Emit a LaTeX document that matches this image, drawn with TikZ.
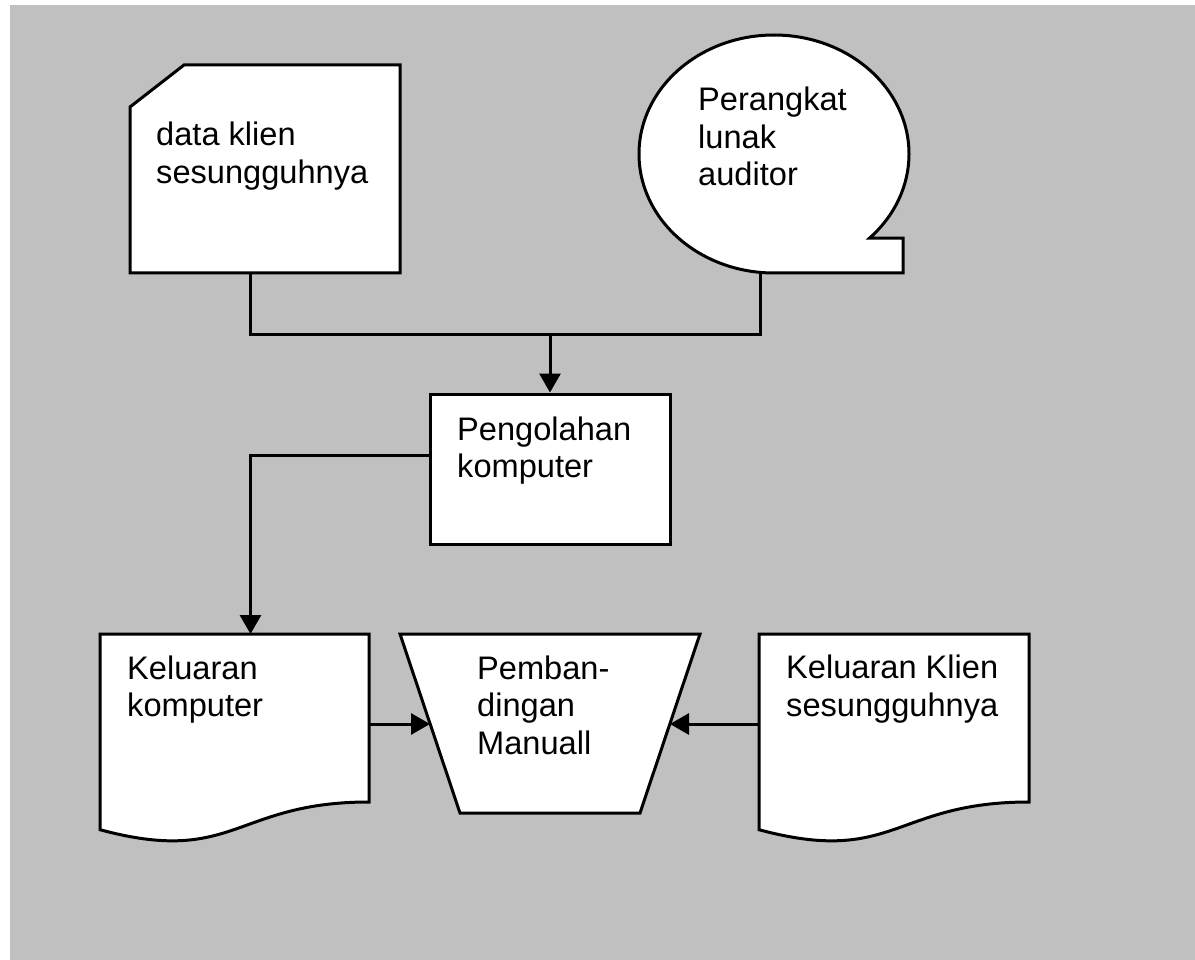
\documentclass[tikz,border=0pt]{standalone}
\usepackage{fontspec}
\setmainfont{Liberation Sans}
\usetikzlibrary{arrows.meta}
\definecolor{bggray}{RGB}{192,192,192}
\begin{document}
\begin{tikzpicture}[x=1pt,y=-1pt,
  shapeline/.style={draw=black, line width=3pt, fill=white, line join=miter},
  wire/.style={draw=black, line width=3pt},
  feed/.style={wire, -{Triangle[length=19pt,width=21pt]}},
  anchorbox/.style={rectangle, draw=none, inner sep=0pt, outer sep=0pt},
  boxtext/.style={anchor=base west, align=left, inner sep=0pt, text=black,
    font=\fontsize{32.6pt}{37.5pt}\selectfont}]
  \useasboundingbox (0,0) rectangle (1195,960);
  \fill[white] (0,0) rectangle (1195,960);
  \fill[bggray] (10,5) rectangle (1195,960);

  % punched card: client data
  \node[anchorbox, minimum width=270pt, minimum height=208pt] (data) at (265,169) {};
  \draw[shapeline] (184,65) -- (400,65) -- (400,273) -- (130,273) -- (130,107) -- cycle;

  % sequential storage: auditor software
  \node[anchorbox, minimum width=270pt, minimum height=238pt] (tape) at (774,154) {};
  \draw[shapeline] (774,273) arc[start angle=90, end angle=405, x radius=135, y radius=119]
    -- (903,238.1) -- (903,273) -- cycle;

  % process box
  \node[shapeline, rectangle, minimum width=240pt, minimum height=150pt, inner sep=0pt] (pc) at (550,469) {};

  % document: computer output
  \node[anchorbox, minimum width=269pt, minimum height=180pt] (out1) at (234.5,724) {};
  \draw[shapeline] (100,634) -- (369,634) -- (369,802)
    .. controls (234.5,802) and (234.5,866) .. (100,829.7) -- cycle;

  % manual operation: comparison
  \node[anchorbox, minimum width=300pt, minimum height=179pt] (cmp) at (550,724) {};
  \draw[shapeline] (400,634) -- (700,634) -- (640,813) -- (460,813) -- cycle;

  % document: client output
  \node[anchorbox, minimum width=270pt, minimum height=180pt] (out2) at (894,724) {};
  \draw[shapeline] (759,634) -- (1029,634) -- (1029,802)
    .. controls (894,802) and (894,866) .. (759,829.7) -- cycle;

  % connectors
  \coordinate (merge) at (550,334);
  \draw[wire] ([xshift=-15pt]data.south) |- (merge) -| ([xshift=-14pt]tape.south);
  \draw[feed] (merge) -- (pc.north);
  \draw[feed] ([yshift=14pt]pc.west) -| ([xshift=16pt]out1.north);
  \draw[feed] (out1.east) -- ([xshift=-120pt]cmp.center);
  \draw[feed] (out2.west) -- ([xshift=120pt]cmp.center);

  % texts (placed by the baseline of their last line)
  \node[boxtext] (data-t) at (156,183.5) {data klien\\sesungguhnya};
  \node[boxtext] (tape-t) at (698,186) {Perangkat\\lunak\\auditor};
  \node[boxtext] (pc-t) at (457,477.5) {Pengolahan\\komputer};
  \node[boxtext] (out1-t) at (127,716.5) {Keluaran\\komputer};
  \node[boxtext] (cmp-t) at (477,754) {Pemban-\\dingan\\Manuall};
  \node[boxtext] (out2-t) at (786,716) {Keluaran Klien\\sesungguhnya};
\end{tikzpicture}
\end{document}
